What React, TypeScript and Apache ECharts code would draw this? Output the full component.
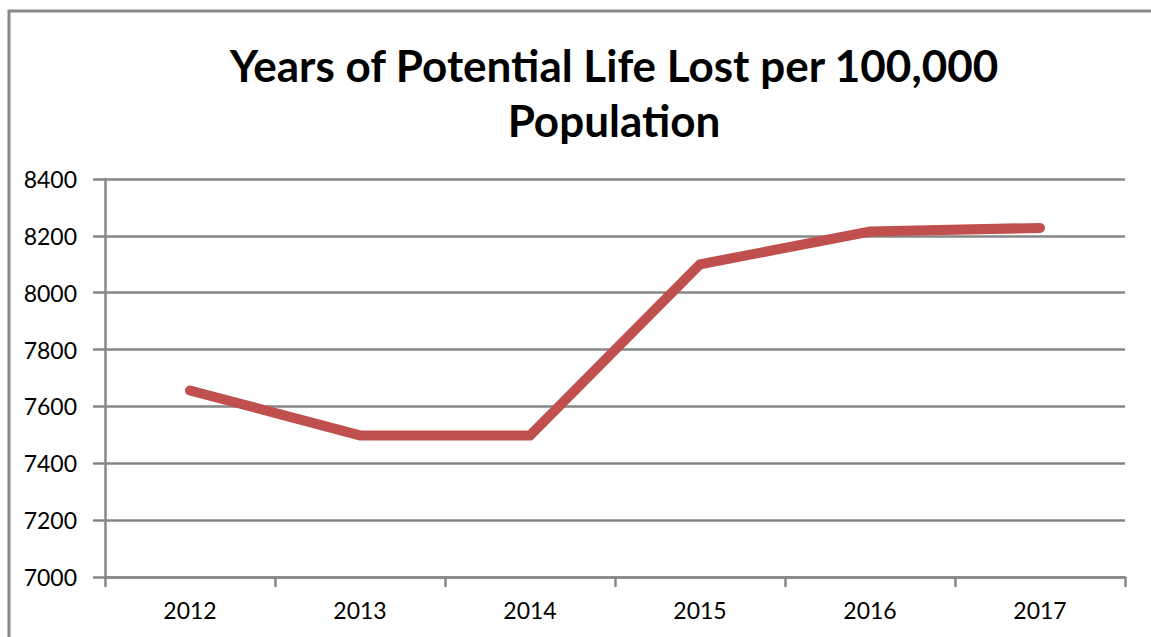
import React, { useEffect, useRef } from "react";
import * as echarts from "echarts";

const titleText = "Years of Potential Life Lost per 100,000\nPopulation";
const years = ["2012", "2013", "2014", "2015", "2016", "2017"];
const yplValues = [7656, 7498, 7498, 8100, 8215, 8228];
const yMin = 7000;
const yMax = 8400;
const yStep = 200;

const GRAY = "#878787";
const FONT = "Lato, 'Open Sans', sans-serif";

export default function App() {
  const ref = useRef<HTMLDivElement>(null);
  useEffect(() => {
    document.body.style.margin = "0";
    const chart = echarts.init(ref.current!, null, { renderer: "svg" });
    chart.setOption({
      animation: false,
      backgroundColor: "#ffffff",
      title: {
        text: titleText,
        left: 609,
        top: 32,
        textAlign: "center",
        textStyle: {
          fontFamily: FONT,
          fontWeight: "bold",
          fontSize: 44,
          lineHeight: 55,
          color: "#000000",
        },
      },
      graphic: [
        {
          type: "rect",
          shape: { x: 9, y: 11, width: 1400, height: 900 },
          style: { fill: "none", stroke: GRAY, lineWidth: 3 },
          silent: true,
          z: -10,
        },
      ],
      grid: { left: 105, right: 26, top: 179, bottom: 60, containLabel: false },
      xAxis: {
        type: "category",
        data: years,
        boundaryGap: true,
        axisLine: { show: true, lineStyle: { color: GRAY, width: 2.5 } },
        axisTick: { show: true, length: 10, alignWithLabel: false, lineStyle: { color: GRAY, width: 2.5 } },
        axisLabel: { color: "#000", fontFamily: FONT, fontSize: 23, margin: 21 },
        splitLine: { show: false },
      },
      yAxis: {
        type: "value",
        min: yMin,
        max: yMax,
        interval: yStep,
        axisLine: { show: true, lineStyle: { color: GRAY, width: 2.5 } },
        axisTick: { show: true, length: 12, lineStyle: { color: GRAY, width: 2.5 } },
        axisLabel: {
          color: "#000",
          fontFamily: FONT,
          fontSize: 23,
          margin: 28,
          formatter: (v: number) => String(v),
        },
        splitLine: { show: true, lineStyle: { color: GRAY, width: 2.5 } },
      },
      series: [
        {
          type: "line",
          data: yplValues,
          showSymbol: false,
          symbol: "none",
          lineStyle: { color: "#c0504d", width: 10, cap: "round", join: "miter" },
          z: 5,
        },
      ],
    });
    return () => chart.dispose();
  }, []);
  return (
    <div
      ref={ref}
      style={{ position: "absolute", left: 0, top: 0, width: 1151, height: 637 }}
    />
  );
}
